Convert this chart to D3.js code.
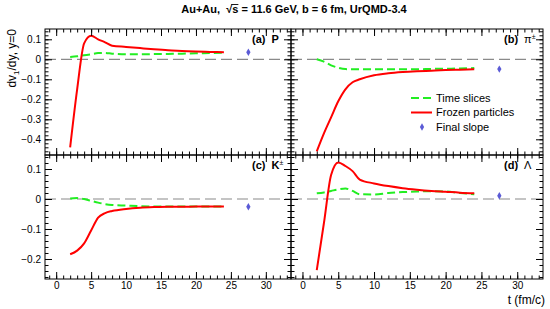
<!DOCTYPE html>
<html>
<head>
<meta charset="utf-8">
<script src="https://cdn.jsdelivr.net/npm/d3@7"></script>
<style>
  body { margin: 0; background: #fff; }
  text { font-family: "Liberation Sans", Arial, sans-serif; }
</style>
</head>
<body>
<div id="chart"></div>
<script>
// time grid (fm/c) shared by every curve
var tGrid = [2, 3, 4, 5, 6, 7, 8, 10, 12, 14, 16, 18, 20, 22, 24];

// (a) protons
var timeP   = [0.012, 0.015, 0.020, 0.025, 0.031, 0.032, 0.028, 0.025, 0.025, 0.026, 0.027, 0.028, 0.030, 0.031, 0.033];
var frozenP = [-0.44, -0.15, 0.08, 0.118, 0.100, 0.085, 0.068, 0.062, 0.056, 0.050, 0.045, 0.042, 0.039, 0.037, 0.035];
var finalP  = [27.5, 0.035];

// (b) pions
var timePi   = [0, -0.012, -0.030, -0.042, -0.049, -0.050, -0.050, -0.050, -0.050, -0.050, -0.050, -0.048, -0.047, -0.046, -0.044];
var frozenPi = [-0.46, -0.37, -0.29, -0.21, -0.15, -0.115, -0.100, -0.080, -0.070, -0.064, -0.060, -0.057, -0.054, -0.052, -0.050];
var finalPi  = [27.5, -0.049];

// (c) kaons
var timeK   = [0.002, 0.003, 0, -0.006, -0.012, -0.017, -0.020, -0.022, -0.024, -0.025, -0.025, -0.025, -0.025, -0.025, -0.025];
var frozenK = [-0.184, -0.172, -0.148, -0.105, -0.062, -0.047, -0.040, -0.033, -0.029, -0.027, -0.026, -0.026, -0.025, -0.025, -0.025];
var finalK  = [27.5, -0.026];

// (d) lambdas
var timeL   = [0.019, 0.022, 0.027, 0.032, 0.035, 0.027, 0.016, 0.015, 0.020, 0.023, 0.025, 0.026, 0.025, 0.020, 0.016];
var frozenL = [-0.237, -0.08, 0.08, 0.122, 0.110, 0.093, 0.065, 0.052, 0.043, 0.036, 0.031, 0.027, 0.024, 0.021, 0.019];
var finalL  = [27.5, 0.011];

var xMajor = [0, 5, 10, 15, 20, 25, 30];
var yMajorTop = [-0.4, -0.3, -0.2, -0.1, 0, 0.1];
var yMajorBot = [-0.2, -0.1, 0, 0.1];

var width = 550, height = 309;

var svg = d3.select("#chart").append("svg")
    .attr("width", width)
    .attr("height", height);

svg.append("rect").attr("width", width).attr("height", height).attr("fill", "#fff");

var xL = d3.scaleLinear().domain([-1.6, 33.6]).range([45, 291]),
    xR = d3.scaleLinear().domain([-1.6, 33.6]).range([291, 543]),
    yT = d3.scaleLinear().domain([-0.4785, 0.1515]).range([155, 29]),
    yB = d3.scaleLinear().domain([-0.2667, 0.1467]).range([279, 155]);

var panels = [
  {x: xL, y: yT, yMajor: yMajorTop, time: timeP,  frozen: frozenP,  fin: finalP,  tag: "(a)", name: "P",      sup: "",       nameBold: true,  left: true,  bottom: false},
  {x: xR, y: yT, yMajor: yMajorTop, time: timePi, frozen: frozenPi, fin: finalPi, tag: "(b)", name: "\u03c0", sup: "\u00b1", nameBold: false, left: false, bottom: false},
  {x: xL, y: yB, yMajor: yMajorBot, time: timeK,  frozen: frozenK,  fin: finalK,  tag: "(c)", name: "K",      sup: "\u00b1", nameBold: true,  left: true,  bottom: true},
  {x: xR, y: yB, yMajor: yMajorBot, time: timeL,  frozen: frozenL,  fin: finalL,  tag: "(d)", name: "\u039b", sup: "",       nameBold: false, left: false, bottom: true}
];

var fmtY = function(d) { return d === 0 ? "0" : d3.format(".1f")(d); };

function minorRange(scale, step) {
  var dom = scale.domain(), lo = Math.ceil(dom[0] / step - 1e-6), hi = Math.floor(dom[1] / step + 1e-6);
  return d3.range(lo, hi + 1).map(function(i) { return +(i * step).toFixed(4); });
}

function styleAxis(g) {
  g.select(".domain").remove();
  g.selectAll("line").attr("stroke", "#000").attr("stroke-width", 1);
  g.selectAll("text").attr("fill", "#000").attr("font-size", 10)
    .attr("font-family", "'Liberation Sans', Arial, sans-serif");
}

panels.forEach(function(p) {
  var x = p.x, y = p.y,
      x0 = x.range()[0], x1 = x.range()[1],
      y0 = y.range()[1], y1 = y.range()[0];
  var g = svg.append("g");

  // zero line
  g.append("line")
      .attr("x1", x0).attr("x2", x1)
      .attr("y1", y(0)).attr("y2", y(0))
      .attr("stroke", "#8a8a8a")
      .attr("stroke-width", 1.2)
      .attr("stroke-dasharray", "11,5");

  var line = d3.line()
      .x(function(d) { return x(d[0]); })
      .y(function(d) { return y(d[1]); })
      .curve(d3.curveMonotoneX);

  g.append("path")
      .datum(d3.zip(tGrid, p.time))
      .attr("d", line)
      .attr("fill", "none")
      .attr("stroke", "#22ee22")
      .attr("stroke-width", 2)
      .attr("stroke-dasharray", "8,4");

  g.append("path")
      .datum(d3.zip(tGrid, p.frozen))
      .attr("d", line)
      .attr("fill", "none")
      .attr("stroke", "#ff0000")
      .attr("stroke-width", 2);

  g.append("path")
      .attr("d", d3.symbol().type(d3.symbolDiamond).size(16))
      .attr("transform", "translate(" + x(p.fin[0]) + "," + y(p.fin[1]) + ")")
      .attr("fill", "#5b5bd6");

  // frame
  g.append("rect")
      .attr("x", x0).attr("y", y0)
      .attr("width", x1 - x0).attr("height", y1 - y0)
      .attr("fill", "none")
      .attr("stroke", "#000")
      .attr("stroke-width", 1);

  var xMinor = minorRange(x, 1), yMinor = minorRange(y, 0.02);

  // ticks on all four sides, pointing inward
  g.append("g").attr("transform", "translate(0," + y1 + ")")
      .call(d3.axisBottom(x).tickValues(xMinor).tickSize(-3.5).tickFormat(""))
      .call(styleAxis);
  g.append("g").attr("transform", "translate(0," + y1 + ")")
      .call(d3.axisBottom(x).tickValues(xMajor).tickSize(-7).tickPadding(3)
        .tickFormat(p.bottom ? d3.format("d") : ""))
      .call(styleAxis);
  g.append("g").attr("transform", "translate(0," + y0 + ")")
      .call(d3.axisTop(x).tickValues(xMinor).tickSize(-3.5).tickFormat(""))
      .call(styleAxis);
  g.append("g").attr("transform", "translate(0," + y0 + ")")
      .call(d3.axisTop(x).tickValues(xMajor).tickSize(-7).tickFormat(""))
      .call(styleAxis);

  g.append("g").attr("transform", "translate(" + x0 + ",0)")
      .call(d3.axisLeft(y).tickValues(yMinor).tickSize(-3.5).tickFormat(""))
      .call(styleAxis);
  g.append("g").attr("transform", "translate(" + x0 + ",0)")
      .call(d3.axisLeft(y).tickValues(p.yMajor).tickSize(-7).tickPadding(4)
        .tickFormat(p.left ? fmtY : ""))
      .call(styleAxis);
  g.append("g").attr("transform", "translate(" + x1 + ",0)")
      .call(d3.axisRight(y).tickValues(yMinor).tickSize(-3.5).tickFormat(""))
      .call(styleAxis);
  g.append("g").attr("transform", "translate(" + x1 + ",0)")
      .call(d3.axisRight(y).tickValues(p.yMajor).tickSize(-7).tickFormat(""))
      .call(styleAxis);

  // panel tag
  var lab = g.append("text")
      .attr("x", x1 - 39)
      .attr("y", y0 + 14)
      .attr("font-size", 11)
      .attr("fill", "#000");
  lab.append("tspan").attr("font-weight", "bold").text(p.tag);
  lab.append("tspan").attr("dx", 6).attr("font-weight", p.nameBold ? "bold" : "normal").text(p.name);
  if (p.sup) {
    lab.append("tspan").attr("font-size", 7).attr("dy", -4).text(p.sup);
  }
});

// legend inside panel (b)
var leg = svg.append("g");
var legItems = ["Time slices", "Frozen particles", "Final slope"];
leg.selectAll("text").data(legItems).enter().append("text")
    .attr("x", 436)
    .attr("y", function(d, i) { return 98 + i * 14.5; })
    .attr("dy", "0.35em")
    .attr("font-size", 11)
    .attr("fill", "#000")
    .text(function(d) { return d; });
leg.append("line")
    .attr("x1", 411).attr("x2", 432).attr("y1", 98).attr("y2", 98)
    .attr("stroke", "#22ee22").attr("stroke-width", 2).attr("stroke-dasharray", "8,4");
leg.append("line")
    .attr("x1", 411).attr("x2", 432).attr("y1", 112.5).attr("y2", 112.5)
    .attr("stroke", "#ff0000").attr("stroke-width", 2);
leg.append("path")
    .attr("d", d3.symbol().type(d3.symbolDiamond).size(16))
    .attr("transform", "translate(422,127)")
    .attr("fill", "#5b5bd6");

// title
var title = svg.append("text")
    .attr("x", 294)
    .attr("y", 13)
    .attr("text-anchor", "middle")
    .attr("font-size", 11)
    .attr("font-weight", "bold")
    .attr("fill", "#000");
var pre = "Au+Au,\u00a0 \u221a";
title.append("tspan").text(pre);
title.append("tspan").text("s");
title.append("tspan").text(" = 11.6 GeV, b = 6 fm, UrQMD-3.4");

// overline of the square root, sized from the rendered glyphs
var root = title.node().getExtentOfChar(pre.length - 1),
    sBox = title.node().getExtentOfChar(pre.length);
svg.append("line")
    .attr("x1", root.x + root.width - 1).attr("x2", sBox.x + sBox.width)
    .attr("y1", root.y + 1.5).attr("y2", root.y + 1.5)
    .attr("stroke", "#000").attr("stroke-width", 0.9);

// axis titles
svg.append("text")
    .attr("transform", "translate(16,29) rotate(-90)")
    .attr("text-anchor", "end")
    .attr("font-size", 12)
    .attr("fill", "#000")
    .call(function(t) {
      t.append("tspan").text("dv");
      t.append("tspan").attr("font-size", 8).attr("dy", 3).text("1");
      t.append("tspan").attr("dy", -3).text("/dy, y=0");
    });

svg.append("text")
    .attr("x", 545)
    .attr("y", 304)
    .attr("text-anchor", "end")
    .attr("font-size", 12)
    .attr("fill", "#000")
    .text("t (fm/c)");
</script>
</body>
</html>
